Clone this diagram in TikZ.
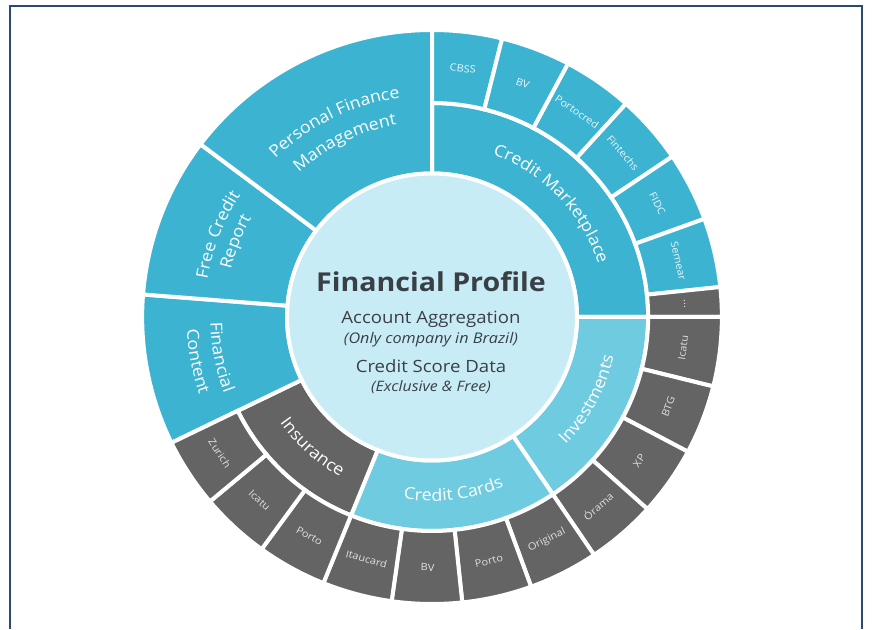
\documentclass[tikz,border=0pt]{standalone}
\usepackage{fontspec}
\setmainfont{Open Sans}
\newfontfamily\widefont{Open Sans}[FakeStretch=1.1]
\newfontfamily\ringfam{Open Sans}[FakeStretch=1.08]
\usetikzlibrary{decorations.text}
\definecolor{segblue}{HTML}{3CB4D1}
\definecolor{seglight}{HTML}{6FCCE0}
\definecolor{segcenter}{HTML}{C8ECF5}
\definecolor{seggray}{HTML}{646464}
\definecolor{centertext}{HTML}{3A3F46}
\definecolor{framecol}{HTML}{2B4A6F}
\newcommand\ringfont{\color{white}\ringfam\fontsize{16.5}{19}\selectfont}
% color, r1, r2, a1, a2
\newcommand\sbsector[5]{\path[sector, fill=#1] (#4:#2) arc[start angle=#4, end angle=#5, radius=#2] -- (#5:#3) arc[start angle=#5, end angle=#4, radius=#3] -- cycle;}
% clockwise curved text: mid angle, baseline radius, text
\newcommand\cwtext[3]{\path[decorate, decoration={text along path, text align=center, text={|\ringfont|#3}}] (#1+70:#2) arc[start angle=#1+70, end angle=#1-70, radius=#2];}
% counter-clockwise curved text
\newcommand\ccwtext[3]{\path[decorate, decoration={text along path, text align=center, text={|\ringfont|#3}}] (#1-70:#2) arc[start angle=#1-70, end angle=#1+70, radius=#2];}
\newcommand\outtop[4]{\node[outerlbl, text=#4, rotate=#2-90] (#1) at (#2:250.5pt) {#3};}
\newcommand\outbot[4]{\node[outerlbl, text=#4, rotate=#2+90] (#1) at (#2:250.5pt) {#3};}
\begin{document}
\begin{tikzpicture}[x=1pt,y=1pt,
  sector/.style={draw=white, line width=4pt, line join=miter},
  outerlbl/.style={font=\widefont\fontsize{10}{12}\selectfont, inner sep=0pt},
  centerlbl/.style={anchor=base, text=centertext, inner sep=0pt}]
\useasboundingbox (0,0) rectangle (872,629);
\fill[white] (0,0) rectangle (872,629);
\draw[framecol, line width=1.2pt] (10,0) -- (10,623) -- (862,623) -- (862,0);
\begin{scope}[shift={(432pt,312pt)}, xscale=1.01]
  % middle ring
  \sbsector{segblue}{143.5pt}{214pt}{0}{90}
  \sbsector{seglight}{143.5pt}{214pt}{-56}{0}
  \sbsector{seglight}{143.5pt}{214pt}{-112}{-56}
  \sbsector{seggray}{143.5pt}{214pt}{-154}{-112}
  % full span sectors
  \sbsector{segblue}{143.5pt}{287pt}{175.5}{206}
  \sbsector{segblue}{143.5pt}{287pt}{143}{175.5}
  \sbsector{segblue}{143.5pt}{287pt}{90}{143}
  % outer ring, credit marketplace
  \sbsector{segblue}{214pt}{287pt}{76}{90}
  \sbsector{segblue}{214pt}{287pt}{62}{76}
  \sbsector{segblue}{214pt}{287pt}{48}{62}
  \sbsector{segblue}{214pt}{287pt}{34}{48}
  \sbsector{segblue}{214pt}{287pt}{20}{34}
  \sbsector{segblue}{214pt}{287pt}{6}{20}
  \sbsector{seggray}{214pt}{287pt}{0}{6}
  % outer ring, lower half
  \foreach \a in {0,-14,...,-140} {
    \sbsector{seggray}{214pt}{287pt}{\a-14}{\a}
  }
  % centre
  \path[sector, fill=segcenter] (0,0) circle[radius=143.5pt];
  % curved labels
  \cwtext{116.5}{221.5pt}{Personal Finance}
  \cwtext{116.5}{195.5pt}{Management}
  \cwtext{159}{225.5pt}{Free Credit}
  \cwtext{159}{204.5pt}{Report}
  \ccwtext{190.75}{219.5pt}{Financial}
  \ccwtext{190.75}{243pt}{Content}
  \cwtext{43.5}{173pt}{Credit Marketplace}
  \ccwtext{-28}{184pt}{Investments}
  \ccwtext{-83}{184pt}{Credit Cards}
  \ccwtext{-132.5}{184pt}{Insurance}
  % outer labels
  \outtop{cbss}{83}{CBSS}{white!88!segblue}
  \outtop{bv1}{69}{BV}{white!88!segblue}
  \outtop{portocred}{55}{Portocred}{white!88!segblue}
  \outtop{fintechs}{41}{Fintechs}{white!88!segblue}
  \outtop{fidc}{27}{FIDC}{white!88!segblue}
  \outtop{semear}{13}{Semear}{white!88!segblue}
  \outtop{more}{3}{...}{white!80!seggray}
  \outbot{icatu1}{-7}{Icatu}{white!80!seggray}
  \outbot{btg}{-21}{BTG}{white!80!seggray}
  \outbot{xp}{-35}{XP}{white!80!seggray}
  \outbot{orama}{-49}{Órama}{white!80!seggray}
  \outbot{original}{-63}{Original}{white!80!seggray}
  \outbot{porto1}{-77}{Porto}{white!80!seggray}
  \outbot{bv2}{-91}{BV}{white!80!seggray}
  \outbot{itaucard}{-105}{Itaucard}{white!80!seggray}
  \outbot{porto2}{-119}{Porto}{white!80!seggray}
  \outbot{icatu2}{-133}{Icatu}{white!80!seggray}
  \outbot{zurich}{-147}{Zurich}{white!80!seggray}
\end{scope}
% centre text
\node[centerlbl, font=\widefont\bfseries\fontsize{26}{30}\selectfont] (fp) at (431,337.3) {Financial Profile};
\node[centerlbl, font=\widefont\fontsize{16.9}{20}\selectfont] (aa) at (431,305) {Account Aggregation};
\node[centerlbl, font=\widefont\itshape\fontsize{14.7}{17}\selectfont] (only) at (431,285.7) {(Only company in Brazil)};
\node[centerlbl, font=\widefont\fontsize{16.9}{20}\selectfont] (csd) at (431,256.7) {Credit Score Data};
\node[centerlbl, font=\widefont\itshape\fontsize{14.4}{17}\selectfont] (excl) at (431,237.3) {(Exclusive \& Free)};
\end{tikzpicture}
\end{document}
